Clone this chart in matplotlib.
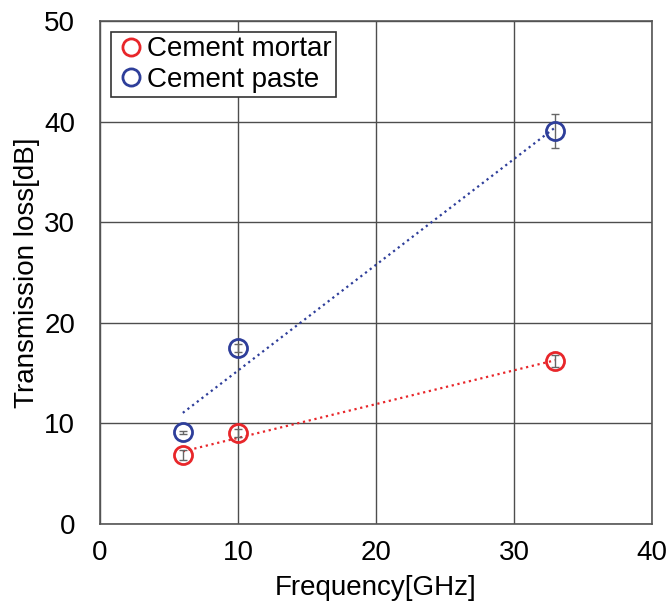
import numpy as np
import matplotlib.pyplot as plt

plt.rcParams['font.family'] = ['Liberation Sans', 'DejaVu Sans']

# Measured transmission loss vs frequency
freq = [6, 10, 33]
mortar = [6.8, 9.0, 16.2]
mortar_err = [0.5, 0.4, 0.6]
paste = [9.1, 17.5, 39.1]
paste_err = [0.15, 0.4, 1.7]

fig = plt.figure(figsize=(6.67, 6.02), dpi=100)
ax = fig.add_axes([0.15, 0.13, 0.8275, 0.835])

# Linear fits drawn as dotted trend lines
xf = np.array([freq[0], freq[-1]])
pm = np.polyfit(freq, mortar, 1)
pp = np.polyfit(freq, paste, 1)
ax.plot(xf, np.polyval(pm, xf), ':', color='#e8262a', lw=1.6)
ax.plot(xf, np.polyval(pp, xf), ':', color='#2e3e9a', lw=1.6)

ax.errorbar(freq, mortar, yerr=mortar_err, fmt='none', ecolor='#666666',
            elinewidth=1, capsize=3, capthick=1)
ax.errorbar(freq, paste, yerr=paste_err, fmt='none', ecolor='#666666',
            elinewidth=1, capsize=3, capthick=1)
ax.plot(freq, mortar, 'o', ms=13, mfc='none', mec='#e8262a', mew=2,
        label='Cement mortar')
ax.plot(freq, paste, 'o', ms=13, mfc='none', mec='#2e3e9a', mew=2,
        label='Cement paste')

ax.set_xlim(0, 40)
ax.set_ylim(0, 50)
ax.set_xticks([0, 10, 20, 30, 40])
ax.set_yticks([0, 10, 20, 30, 40, 50])
ax.grid(True, color='#4d4d4d', lw=1)
ax.tick_params(length=0, labelsize=20)
ax.tick_params(axis='x', pad=12)
ax.tick_params(axis='y', pad=18)
for s in ax.spines.values():
    s.set_color('#555555')
    s.set_linewidth(1.2)

ax.set_xlabel('Frequency[GHz]', fontsize=20, labelpad=6)
ax.set_ylabel('Transmission loss[dB]', fontsize=20, labelpad=3)

leg = ax.legend(loc='upper left', fontsize=20, frameon=True, fancybox=False,
                handletextpad=0.05, handlelength=1.1, borderpad=0.15,
                labelspacing=0.15, borderaxespad=0.4, markerscale=0.95)
leg.get_frame().set_edgecolor('#333333')
leg.get_frame().set_linewidth(1.2)
leg.get_frame().set_alpha(1)

fig.savefig('out.png', dpi=100)
